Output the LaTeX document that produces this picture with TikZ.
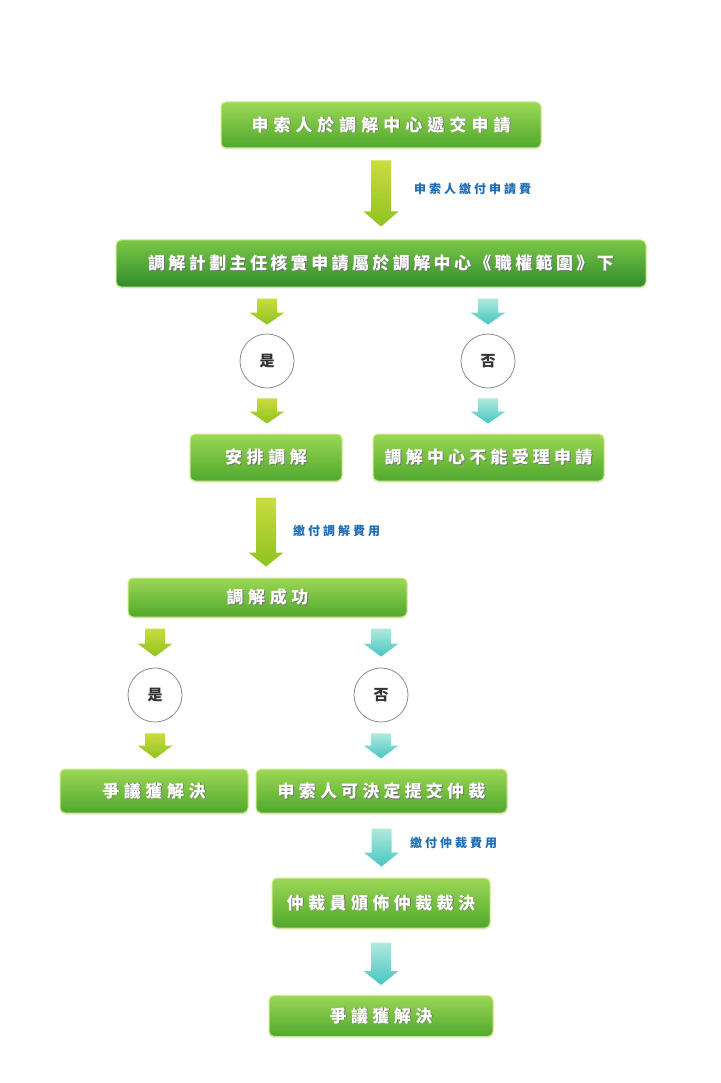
\documentclass[tikz,border=0pt]{standalone}
\usepackage{fontspec}
\setmainfont{Noto Sans CJK TC}
\usetikzlibrary{calc,shadows}
\definecolor{gtop}{HTML}{9CD755}
\definecolor{gbot}{HTML}{4FA82C}
\definecolor{gtopB}{HTML}{7CC646}
\definecolor{gbotB}{HTML}{2F8D2B}
\definecolor{gborder}{HTML}{CFEA88}
\definecolor{atop}{HTML}{CBDC3E}
\definecolor{abot}{HTML}{8EC320}
\definecolor{ttop}{HTML}{B0E9DC}
\definecolor{tbot}{HTML}{46C6C2}
\definecolor{lblue}{HTML}{1E6DB4}
\makeatletter
\newcommand\spacedtxt[2]{\def\sp@first{1}\@tfor\sp@c:=#2\do{\ifnum\sp@first=0 \hspace{#1}\fi\def\sp@first{0}\sp@c}}
\makeatother
\newcommand\wt[2]{\rlap{\hspace{0.9pt}\raisebox{-0.9pt}{\color{black!55}\spacedtxt{#1}{#2}}}\spacedtxt{#1}{#2}}
\newcommand\barrow[4]{\path[#1] let \p1=#2, \p2=#3 in
  (\x2-10pt,\y1) -- (\x2+10pt,\y1) -- (\x2+10pt,\y2+#4) -- (\x2+17.5pt,\y2+#4)
  -- (\x2,\y2) -- (\x2-17.5pt,\y2+#4) -- (\x2-10pt,\y2+#4) -- cycle;}
\begin{document}
\begin{tikzpicture}[x=1pt,y=-1pt,
  stepbox/.style={rounded corners=5pt, draw=gborder, line width=1pt,
    top color=gtop, bottom color=gbot, inner sep=0pt, text=white,
    font=\bfseries\fontsize{17}{17}\selectfont,
    drop shadow={opacity=0.18,shadow xshift=0pt,shadow yshift=-1.5pt}},
  darkbox/.style={stepbox, top color=gtopB, bottom color=gbotB},
  yesno/.style={circle, draw=black!45, line width=0.8pt, fill=white,
    minimum size=54pt, inner sep=0pt, text=black!80,
    font=\bfseries\fontsize{15}{15}\selectfont},
  lbl/.style={anchor=west, inner sep=0pt, text=lblue,
    font=\bfseries\fontsize{12}{12}\selectfont},
  garrow/.style={top color=atop, bottom color=abot},
  tarrow/.style={top color=ttop, bottom color=tbot}]
\fill[white] (0,0) rectangle (720,1083);
\useasboundingbox (0,0) rectangle (720,1083);

% boxes
\node[stepbox, minimum width=320pt, minimum height=46pt] (b1) at (381,125) {\wt{5pt}{申索人於調解中心遞交申請}};
\node[darkbox, minimum width=530pt, minimum height=47pt] (b2) at (381,263.5) {\wt{3.4pt}{調解計劃主任核實申請屬於調解中心《職權範圍》下}};
\node[yesno] (y1) at (267,361) {是};
\node[yesno] (n1) at (488,361) {否};
\node[stepbox, minimum width=152pt, minimum height=47pt] (b3) at (266,457.5) {\wt{4.6pt}{安排調解}};
\node[stepbox, minimum width=231pt, minimum height=47pt] (b4) at (488.5,457.5) {\wt{4.2pt}{調解中心不能受理申請}};
\node[stepbox, minimum width=279pt, minimum height=39pt] (b5) at (267.5,597.5) {\wt{4.6pt}{調解成功}};
\node[yesno] (y2) at (155,695) {是};
\node[yesno] (n2) at (381,695) {否};
\node[stepbox, minimum width=188pt, minimum height=44pt] (b6) at (154,791) {\wt{4.6pt}{爭議獲解決}};
\node[stepbox, minimum width=251pt, minimum height=44pt] (b7) at (381.5,791) {\wt{4.2pt}{申索人可決定提交仲裁}};
\node[stepbox, minimum width=218pt, minimum height=50pt] (b8) at (381,903) {\wt{4.4pt}{仲裁員頒佈仲裁裁決}};
\node[stepbox, minimum width=224pt, minimum height=41pt] (b9) at (381,1016) {\wt{4.4pt}{爭議獲解決}};

% block arrows
\barrow{garrow}{($(b1.south)+(0,12)$)}{($(b2.north)+(0,-13)$)}{15pt}
\barrow{garrow}{($(y1 |- b2.south)+(0,11)$)}{($(y1.north)+(0,-9)$)}{12pt}
\barrow{tarrow}{($(n1 |- b2.south)+(0,11)$)}{($(n1.north)+(0,-9)$)}{12pt}
\barrow{garrow}{($(y1.south)+(0,10)$)}{($(y1 |- b3.north)+(0,-10)$)}{12pt}
\barrow{tarrow}{($(n1.south)+(0,10)$)}{($(n1 |- b4.north)+(0,-10)$)}{12pt}
\barrow{garrow}{($(b3.south)+(0,16)$)}{($(b3.south |- b5.north)+(0,-11)$)}{14pt}
\barrow{garrow}{($(y2 |- b5.south)+(0,11)$)}{($(y2.north)+(0,-11)$)}{13pt}
\barrow{tarrow}{($(n2 |- b5.south)+(0,11)$)}{($(n2.north)+(0,-11)$)}{13pt}
\barrow{garrow}{($(y2.south)+(0,11)$)}{($(y2 |- b6.north)+(0,-10)$)}{13pt}
\barrow{tarrow}{($(n2.south)+(0,11)$)}{($(n2 |- b7.north)+(0,-10)$)}{13pt}
\barrow{tarrow}{($(b7.south)+(0,15)$)}{($(b7.south |- b8.north)+(0,-11)$)}{14pt}
\barrow{tarrow}{($(b8.south)+(0,14)$)}{($(b8.south |- b9.north)+(0,-10)$)}{14pt}

% labels
\node[lbl] (l1) at (414,189) {\spacedtxt{3pt}{申索人繳付申請費}};
\node[lbl] (l2) at (293,531) {\spacedtxt{3pt}{繳付調解費用}};
\node[lbl] (l3) at (410,843) {\spacedtxt{3pt}{繳付仲裁費用}};
\end{tikzpicture}
\end{document}
